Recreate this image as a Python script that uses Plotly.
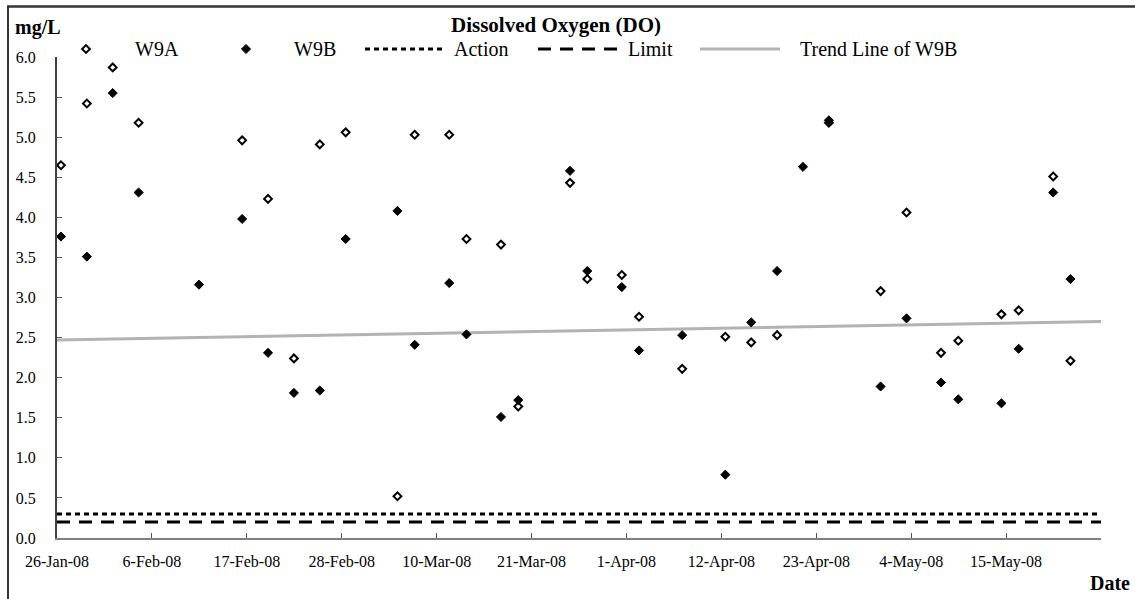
import plotly.graph_objects as go

# ---------------- data ----------------
dates = ["2008-01-26", "2008-01-29", "2008-02-01", "2008-02-04", "2008-02-11",
         "2008-02-16", "2008-02-19", "2008-02-22", "2008-02-25", "2008-02-28",
         "2008-03-05", "2008-03-07", "2008-03-11", "2008-03-13", "2008-03-17",
         "2008-03-19", "2008-03-25", "2008-03-27", "2008-03-31", "2008-04-02",
         "2008-04-07", "2008-04-12", "2008-04-15", "2008-04-18", "2008-04-21",
         "2008-04-24", "2008-04-30", "2008-05-03", "2008-05-07", "2008-05-09",
         "2008-05-14", "2008-05-16", "2008-05-20", "2008-05-22"]
sample_time = "11:00"
w9a = [4.65, 5.42, 5.87, 5.18, None, 4.96, 4.23, 2.24, 4.91, 5.06,
       0.52, 5.03, 5.03, 3.73, 3.66, 1.64, 4.43, 3.23, 3.28, 2.76,
       2.11, 2.51, 2.44, 2.53, None, 5.18, 3.08, 4.06, 2.31, 2.46,
       2.79, 2.84, 4.51, 2.21]
w9b = [3.76, 3.51, 5.55, 4.31, 3.16, 3.98, 2.31, 1.81, 1.84, 3.73,
       4.08, 2.41, 3.18, 2.54, 1.51, 1.72, 4.58, 3.33, 3.13, 2.34,
       2.53, 0.79, 2.69, 3.33, 4.63, 5.21, 1.89, 2.74, 1.94, 1.73,
       1.68, 2.36, 4.31, 3.23]
axis_start, axis_end = "2008-01-26", "2008-05-26"
trend_dates = [axis_start, axis_end]
trend_w9b = [2.47, 2.70]
action_level = 0.3
limit_level = 0.2
tick_dates = ["2008-01-26", "2008-02-06", "2008-02-17", "2008-02-28", "2008-03-10",
              "2008-03-21", "2008-04-01", "2008-04-12", "2008-04-23", "2008-05-04",
              "2008-05-15", "2008-05-26"]
tick_labels = ["26-Jan-08", "6-Feb-08", "17-Feb-08", "28-Feb-08", "10-Mar-08",
               "21-Mar-08", "1-Apr-08", "12-Apr-08", "23-Apr-08", "4-May-08",
               "15-May-08", ""]
y_ticks = [0.0, 0.5, 1.0, 1.5, 2.0, 2.5, 3.0, 3.5, 4.0, 4.5, 5.0, 5.5, 6.0]
series_names = ["W9A", "W9B", "Action", "Limit", "Trend Line of W9B"]
title_text = "Dissolved Oxygen (DO)"
y_title = "mg/L"
x_title = "Date"

# ---------------- layout geometry (pixels) ----------------
W, H = 1135, 599
L, R, T, B = 57, 34, 30, 61
plot_top_px = 57          # y pixel of 6.0
plot_w = W - L - R
plot_h = H - T - B
ydom_top = (H - B - plot_top_px) / plot_h

FONT = "Liberation Serif, Times New Roman, serif"
xs = [f"{d} {sample_time}" for d in dates]


def px_x(p):
    return (p - L) / plot_w


def px_y(p):
    return (H - B - p) / plot_h


fig = go.Figure()

# main data
fig.add_trace(go.Scatter(x=trend_dates, y=trend_w9b, mode="lines",
                         line=dict(color="#b3b3b3", width=3), name=series_names[4],
                         showlegend=False))
fig.add_trace(go.Scatter(x=[axis_start, axis_end], y=[action_level, action_level], mode="lines",
                         line=dict(color="black", width=3, dash="5px,4px"), name=series_names[2],
                         showlegend=False))
fig.add_trace(go.Scatter(x=[axis_start, axis_end], y=[limit_level, limit_level], mode="lines",
                         line=dict(color="black", width=3, dash="13px,9px"), name=series_names[3],
                         showlegend=False))
fig.add_trace(go.Scatter(x=xs, y=w9a, mode="markers", name=series_names[0],
                         marker=dict(symbol="diamond", size=6, color="white",
                                     line=dict(color="black", width=2)),
                         showlegend=False, cliponaxis=False))
fig.add_trace(go.Scatter(x=xs, y=w9b, mode="markers", name=series_names[1],
                         marker=dict(symbol="diamond", size=7, color="black",
                                     line=dict(color="black", width=1)),
                         showlegend=False, cliponaxis=False))

# ---------------- hand-built legend on a pixel-mapped helper axis ----------------
leg_y = 49
fig.add_trace(go.Scatter(x=[86], y=[leg_y], xaxis="x2", yaxis="y2", mode="markers",
                         marker=dict(symbol="diamond", size=6, color="white",
                                     line=dict(color="black", width=2)),
                         showlegend=False, hoverinfo="skip", cliponaxis=False))
fig.add_trace(go.Scatter(x=[246], y=[leg_y], xaxis="x2", yaxis="y2", mode="markers",
                         marker=dict(symbol="diamond", size=7, color="black",
                                     line=dict(color="black", width=1)),
                         showlegend=False, hoverinfo="skip", cliponaxis=False))
fig.add_trace(go.Scatter(x=[365, 442], y=[leg_y, leg_y], xaxis="x2", yaxis="y2", mode="lines",
                         line=dict(color="black", width=3, dash="5px,4px"),
                         showlegend=False, hoverinfo="skip"))
fig.add_trace(go.Scatter(x=[538, 618], y=[leg_y, leg_y], xaxis="x2", yaxis="y2", mode="lines",
                         line=dict(color="black", width=3, dash="13px,9px"),
                         showlegend=False, hoverinfo="skip"))
fig.add_trace(go.Scatter(x=[700, 780], y=[leg_y, leg_y], xaxis="x2", yaxis="y2", mode="lines",
                         line=dict(color="#b3b3b3", width=3),
                         showlegend=False, hoverinfo="skip"))

ann = []
for txt, cx in zip(series_names, [157, 315, 481, 650, 878]):
    ann.append(dict(text=txt, x=px_x(cx), y=px_y(leg_y), xref="paper", yref="paper", xanchor="center",
                    yanchor="middle", showarrow=False, font=dict(size=20, color="black", family=FONT)))
ann.append(dict(text=f"<b>{title_text}</b>", x=px_x(556), y=px_y(25), xref="paper", yref="paper",
                xanchor="center", yanchor="middle", showarrow=False,
                font=dict(size=21, color="black", family=FONT)))
ann.append(dict(text=f"<b>{y_title}</b>", x=px_x(38), y=px_y(27), xref="paper", yref="paper",
                xanchor="center", yanchor="middle", showarrow=False,
                font=dict(size=20, color="black", family=FONT)))
ann.append(dict(text=f"<b>{x_title}</b>", x=px_x(1110), y=px_y(583), xref="paper", yref="paper",
                xanchor="center", yanchor="middle", showarrow=False,
                font=dict(size=20, color="black", family=FONT)))

shapes = [
    dict(type="line", xref="paper", yref="paper", x0=px_x(8), x1=px_x(8), y0=px_y(6), y1=px_y(H + 2),
         line=dict(color="#333333", width=2)),
    dict(type="line", xref="paper", yref="paper", x0=px_x(7), x1=px_x(W + 2), y0=px_y(6.5), y1=px_y(6.5),
         line=dict(color="#333333", width=2.5)),
]

fig.update_layout(
    width=W, height=H,
    margin=dict(l=L, r=R, t=T, b=B, pad=0),
    paper_bgcolor="white", plot_bgcolor="rgba(0,0,0,0)",
    font=dict(family=FONT, size=16, color="black"),
    showlegend=False,
    annotations=ann, shapes=shapes,
    xaxis=dict(type="date", range=[axis_start, axis_end], tickvals=tick_dates, ticktext=tick_labels,
               ticks="inside", ticklen=5, tickcolor="#555555", tickwidth=1,
               showline=True, linecolor="#808080", linewidth=2, showgrid=False, zeroline=False,
               tickfont=dict(size=16, family=FONT, color="black"), ticklabelstandoff=8,
               anchor="y", fixedrange=True),
    yaxis=dict(range=[0, 6], tickvals=y_ticks, tickformat=".1f", domain=[0, ydom_top],
               ticks="inside", ticklen=5, tickcolor="#555555", tickwidth=1,
               showline=True, linecolor="#404040", linewidth=2, showgrid=False, zeroline=False,
               tickfont=dict(size=16, family=FONT, color="black"), ticklabelstandoff=16,
               anchor="x", fixedrange=True),
    xaxis2=dict(range=[L, W - R], domain=[0, 1], anchor="y2", visible=False, fixedrange=True),
    yaxis2=dict(range=[H - B, T], domain=[0, 1], anchor="x2", visible=False, fixedrange=True),
)

fig.write_html("out.html")
